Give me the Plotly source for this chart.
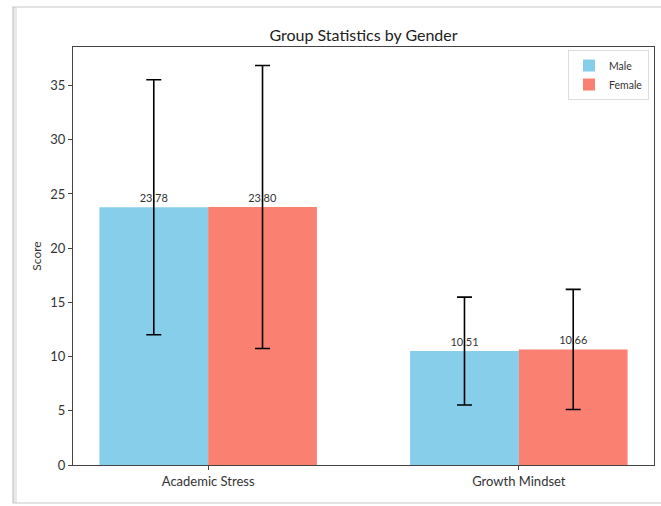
import plotly.graph_objects as go

categories = ["Academic Stress", "Growth Mindset"]
male_mean = [23.78, 10.51]
female_mean = [23.80, 10.66]
male_sd = [11.76, 4.98]
female_sd = [13.05, 5.54]
y_ticks = [0, 5, 10, 15, 20, 25, 30, 35]

FONT = "Lato, 'Open Sans', sans-serif"
TXT = "#333333"

fig = go.Figure()
fig.add_trace(go.Bar(
    x=categories, y=male_mean, name="Male",
    marker=dict(color="#87CEEB", line=dict(width=0)),
    error_y=dict(type="data", array=male_sd, visible=True, color="black", thickness=1.6, width=7.5),
    text=[f"{v:.2f}" for v in male_mean], textposition="outside",
    textfont=dict(size=11, color=TXT, family=FONT), cliponaxis=False,
))
fig.add_trace(go.Bar(
    x=categories, y=female_mean, name="Female",
    marker=dict(color="#FA8072", line=dict(width=0)),
    error_y=dict(type="data", array=female_sd, visible=True, color="black", thickness=1.6, width=7.5),
    text=[f"{v:.2f}" for v in female_mean], textposition="outside",
    textfont=dict(size=11, color=TXT, family=FONT), cliponaxis=False,
))

# outer frame (figure border with faint shadow)
fig.add_shape(type="line", xref="paper", yref="paper", x0=-0.1000, x1=-0.1000, y0=1.0957, y1=-0.0909,
              line=dict(color="#e8e8e8", width=4), layer="below")
fig.add_shape(type="rect", xref="paper", yref="paper", x0=-0.1033, x1=1.05, y0=-0.0909, y1=1.0957,
              line=dict(color="#c8c8c8", width=1.2), layer="below")

fig.update_layout(
    width=661, height=506,
    margin=dict(l=73, r=7, t=47, b=41, autoexpand=False),
    paper_bgcolor="white", plot_bgcolor="white",
    barmode="group", bargap=0.3, bargroupgap=0,
    font=dict(family=FONT, color=TXT, size=13),
    title=dict(text="Group Statistics by Gender", x=0.5, xref="paper", xanchor="center",
               y=1 - 35 / 506, yanchor="middle", font=dict(size=16, color="#222222", family=FONT)),
    legend=dict(x=0.9914, y=0.9928, xanchor="right", yanchor="top",
                bgcolor="rgba(255,255,255,0.9)", bordercolor="#dddddd", borderwidth=1,
                font=dict(size=10.5, color=TXT, family=FONT), tracegroupgap=0,
                itemwidth=30),
    showlegend=True,
)
fig.update_xaxes(showline=True, linecolor="#444444", linewidth=1, mirror=True, automargin=False,
                 ticks="outside", ticklen=4, tickcolor="#444444", showgrid=False,
                 tickfont=dict(size=13, color=TXT), range=[-0.435, 1.435])
fig.update_yaxes(showline=True, linecolor="#444444", linewidth=1, mirror=True, automargin=False,
                 ticks="outside", ticklen=4, tickcolor="#444444", showgrid=False, zeroline=False,
                 tickvals=y_ticks, range=[0, 38.56], tickfont=dict(size=13, color=TXT),
                 title=dict(text="Score", font=dict(size=12, color=TXT), standoff=6))

fig.write_html("out.html", config={"displayModeBar": False},
               post_script="document.body.style.margin='0px';")
